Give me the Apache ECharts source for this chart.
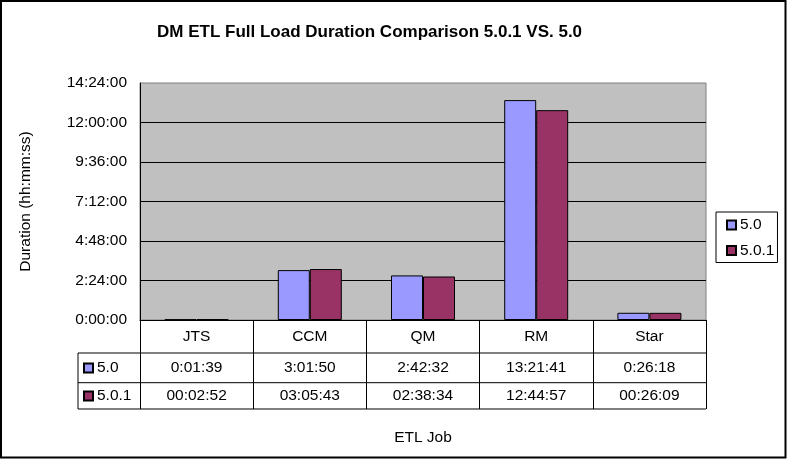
<!DOCTYPE html>
<html>
<head>
<meta charset="utf-8">
<script src="https://cdn.jsdelivr.net/npm/echarts@6/dist/echarts.min.js"></script>
<style>
html,body{margin:0;padding:0;background:#fff;}
#chart{width:787px;height:460px;}
</style>
</head>
<body>
<div id="chart"></div>
<script>
// ---- data ----
const categories = ['JTS', 'CCM', 'QM', 'RM', 'Star'];
const seriesNames = ['5.0', '5.0.1'];
const durations50 = ['0:01:39', '3:01:50', '2:42:32', '13:21:41', '0:26:18'];
const durations501 = ['00:02:52', '03:05:43', '02:38:34', '12:44:57', '00:26:09'];
const yTickInterval = 8640;   // 2:24:00 in seconds
const yMax = 51840;           // 14:24:00 in seconds

function toSec(s) { const p = s.split(':').map(Number); return p[0] * 3600 + p[1] * 60 + p[2]; }
function fmtH(sec) {
  const h = Math.floor(sec / 3600), m = Math.floor((sec % 3600) / 60), s = sec % 60;
  return h + ':' + String(m).padStart(2, '0') + ':' + String(s).padStart(2, '0');
}

const FONT = "'Liberation Sans', Arial, sans-serif";
const FS = 15.5;
const colors = ['#9999FF', '#993366'];

const gridL = 140, gridT = 83, gridW = 566, gridH = 237;
const gridB = gridT + gridH, gridR = gridL + gridW;
const row1 = 353, row2 = 382.7, row3 = 409, keyL = 78;

const chart = echarts.init(document.getElementById('chart'), null, { renderer: 'canvas' });

const line = (x1, y1, x2, y2) => ({
  type: 'line', silent: true, z: 100,
  shape: { x1, y1, x2, y2 },
  style: { stroke: '#000', lineWidth: 1 }
});

chart.setOption({
  animation: false,
  backgroundColor: '#fff',
  textStyle: { fontFamily: FONT, color: '#000' },
  title: {
    text: 'DM ETL Full Load Duration Comparison 5.0.1 VS. 5.0',
    left: 157, top: 22, padding: 0,
    textStyle: { fontFamily: FONT, fontSize: 17, fontWeight: 'bold', color: '#000', lineHeight: 20 }
  },
  legend: [{
    data: seriesNames, orient: 'vertical', left: 716, top: 212,
    borderColor: '#000', borderWidth: 1, padding: [4, 3, 3, 10],
    itemWidth: 9, itemHeight: 9, itemGap: 7.5, icon: 'rect', selectedMode: false,
    textStyle: { fontFamily: FONT, fontSize: FS, color: '#000', lineHeight: 18, padding: [0, 0, 0, -1] }
  }, {
    data: seriesNames, orient: 'vertical', left: 83, top: 359,
    padding: 0, itemWidth: 9, itemHeight: 9, itemGap: 10, icon: 'rect', selectedMode: false,
    textStyle: { fontFamily: FONT, fontSize: FS, color: '#000', lineHeight: 18, padding: [0, 0, 0, -1] }
  }],
  grid: {
    left: gridL, top: gridT, width: gridW, height: gridH,
    show: true, backgroundColor: '#C0C0C0', borderColor: '#808080', borderWidth: 1
  },
  xAxis: [{
    type: 'category', data: categories, position: 'bottom',
    axisLine: { show: true, lineStyle: { color: '#000', width: 1 } },
    axisTick: { show: true, alignWithLabel: false, length: row3 - gridB, lineStyle: { color: '#000', width: 1 } },
    axisLabel: { margin: 16.5, verticalAlign: 'middle', fontFamily: FONT, fontSize: FS, color: '#000' },
    name: 'ETL Job', nameLocation: 'middle', nameGap: 110,
    nameTextStyle: { fontFamily: FONT, fontSize: FS, color: '#000' },
    splitLine: { show: false }
  }, {
    type: 'category', data: categories, position: 'bottom',
    axisLine: { show: false }, axisTick: { show: false }, splitLine: { show: false },
    axisLabel: { margin: 368 - gridB, verticalAlign: 'middle', fontFamily: FONT, fontSize: FS, color: '#000',
      formatter: (v, i) => durations50[i] }
  }, {
    type: 'category', data: categories, position: 'bottom',
    axisLine: { show: false }, axisTick: { show: false }, splitLine: { show: false },
    axisLabel: { margin: 396 - gridB, verticalAlign: 'middle', fontFamily: FONT, fontSize: FS, color: '#000',
      formatter: (v, i) => durations501[i] }
  }],
  yAxis: {
    type: 'value', min: 0, max: yMax, interval: yTickInterval,
    axisLine: { show: true, lineStyle: { color: '#000', width: 1 } },
    axisTick: { show: false },
    splitLine: { show: true, showMinLine: false, showMaxLine: false, lineStyle: { color: '#000', width: 1 } },
    axisLabel: { margin: 13, fontFamily: FONT, fontSize: FS, color: '#000', formatter: v => fmtH(v) },
    name: 'Duration (hh:mm:ss)', nameLocation: 'middle', nameRotate: 90, nameGap: 106,
    nameTextStyle: { fontFamily: FONT, fontSize: FS, color: '#000' }
  },
  series: [{
    name: seriesNames[0], type: 'bar', xAxisIndex: 0,
    data: durations50.map(toSec), barWidth: 32, barGap: '0%',
    itemStyle: { color: colors[0], borderColor: '#000', borderWidth: 1 }
  }, {
    name: seriesNames[1], type: 'bar', xAxisIndex: 0,
    data: durations501.map(toSec), barWidth: 32, barGap: '0%',
    itemStyle: { color: colors[1], borderColor: '#000', borderWidth: 1 }
  }],
  graphic: [
    line(keyL, row1, gridR, row1),
    line(keyL, row2, gridR, row2),
    line(keyL, row3, gridR, row3),
    line(keyL, row1, keyL, row3),
    {
      type: 'rect', silent: true, z: 100,
      shape: { x: 1, y: 1, width: 784.5, height: 456.5 },
      style: { fill: 'none', stroke: '#000', lineWidth: 2 }
    }
  ]
});
</script>
</body>
</html>
